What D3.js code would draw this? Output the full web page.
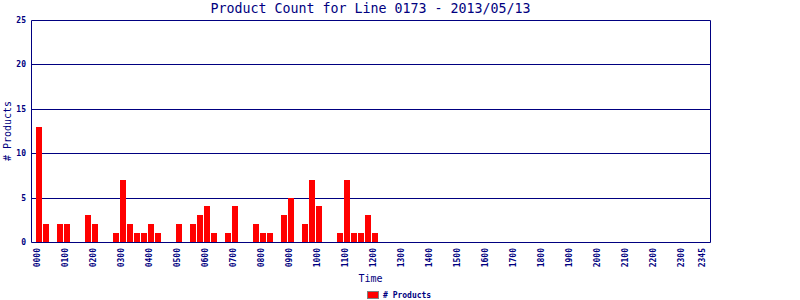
<!DOCTYPE html>
<html>
<head>
<meta charset="utf-8">
<script src="https://cdn.jsdelivr.net/npm/d3@7"></script>
<style>
  body { margin: 0; background: #fff; }
  text { font-family: "DejaVu Sans Mono", monospace; fill: #000080; }
</style>
</head>
<body>
<div id="chart"></div>
<script>
// 15 minute slots for the day, 0000 .. 2345
var slots = [];
for (var h = 0; h < 24; h++) {
  for (var m = 0; m < 60; m += 15) {
    slots.push(d3.format("02")(h) + d3.format("02")(m));
  }
}

// product counts per slot (empty after 1200)
var counts = [
  13, 2, 0, 2, 2, 0, 0, 3, 2, 0, 0, 1, 7, 2, 1, 1,
  2, 1, 0, 0, 2, 0, 2, 3, 4, 1, 0, 1, 4, 0, 0, 2,
  1, 1, 0, 3, 5, 0, 2, 7, 4, 0, 0, 1, 7, 1, 1, 3,
  1, 0, 0, 0, 0, 0, 0, 0, 0, 0, 0, 0, 0, 0, 0, 0,
  0, 0, 0, 0, 0, 0, 0, 0, 0, 0, 0, 0, 0, 0, 0, 0,
  0, 0, 0, 0, 0, 0, 0, 0, 0, 0, 0, 0, 0, 0, 0, 0
];

// labelled ticks: every hour plus the last slot
var xTickLabels = slots.filter(function(s, i) { return i % 4 === 0 || i === slots.length - 1; });
var yTicks = [0, 5, 10, 15, 20, 25];

var width = 800, height = 300;
var plotLeft = 31, plotRight = 710, plotTop = 20, plotBottom = 242;
var navy = "#000080";

var svg = d3.select("#chart")
  .append("svg")
  .attr("width", width)
  .attr("height", height);

var xScale = d3.scaleBand()
  .domain(slots)
  .range([36, 707])
  .paddingInner(1 / 7)
  .paddingOuter(0);

var yScale = d3.scaleLinear()
  .domain([0, 25])
  .range([plotBottom, plotTop]);

// grid lines
svg.append("g")
  .selectAll("line")
  .data(yTicks.filter(function(t) { return t > 0 && t < 25; }))
  .enter()
  .append("line")
  .attr("x1", plotLeft)
  .attr("x2", plotRight)
  .attr("y1", function(d) { return Math.round(yScale(d)) + 0.5; })
  .attr("y2", function(d) { return Math.round(yScale(d)) + 0.5; })
  .attr("stroke", navy)
  .attr("stroke-width", 1);

// bars
var barData = counts
  .map(function(c, i) { return { slot: slots[i], value: c }; })
  .filter(function(d) { return d.value > 0; });

svg.append("g")
  .selectAll("rect")
  .data(barData)
  .enter()
  .append("rect")
  .attr("x", function(d) { return Math.round(xScale(d.slot)); })
  .attr("y", function(d) { return Math.round(yScale(d.value)); })
  .attr("width", Math.round(xScale.bandwidth()))
  .attr("height", function(d) { return plotBottom - Math.round(yScale(d.value)); })
  .attr("fill", "red");

// frame
svg.append("path")
  .attr("d", "M" + (plotLeft + 0.5) + "," + (plotBottom + 0.5) + "V" + (plotTop + 0.5) +
    "H" + (plotRight + 0.5) + "V" + (plotBottom + 0.5) + "H" + (plotLeft + 0.5))
  .attr("fill", "none")
  .attr("stroke", navy)
  .attr("stroke-width", 1);

// y axis labels
var yAxis = d3.axisLeft(yScale).tickValues(yTicks).tickSize(0).tickPadding(5);
var yG = svg.append("g")
  .attr("transform", "translate(" + plotLeft + ",0)")
  .call(yAxis);
yG.attr("font-family", null);
yG.select(".domain").remove();
yG.selectAll("text")
  .style("font-size", "8px")
  .style("font-weight", "bold")
  .attr("fill", navy);

// x axis labels, rotated
var xAxis = d3.axisBottom(xScale).tickValues(xTickLabels).tickSize(0);
var xG = svg.append("g")
  .attr("transform", "translate(0," + plotBottom + ")")
  .call(xAxis);
xG.attr("font-family", null);
xG.select(".domain").remove();
xG.selectAll(".tick")
  .attr("transform", function(d) { return "translate(" + (xScale(d) + 1.5) + ",0)"; });
xG.selectAll("text")
  .attr("y", 0)
  .attr("dy", "0.35em")
  .attr("transform", "translate(0,6) rotate(-90)")
  .attr("text-anchor", "end")
  .style("font-size", "8px")
  .style("font-weight", "bold")
  .attr("fill", navy);

// title
svg.append("text")
  .attr("x", (plotLeft + plotRight) / 2)
  .attr("y", 13)
  .attr("text-anchor", "middle")
  .style("font-size", "13.3px")
  .text("Product Count for Line 0173 - 2013/05/13");

// axis titles
svg.append("text")
  .attr("transform", "translate(11," + ((plotTop + plotBottom) / 2) + ") rotate(-90)")
  .attr("text-anchor", "middle")
  .style("font-size", "10px")
  .text("# Products");

svg.append("text")
  .attr("x", (plotLeft + plotRight) / 2)
  .attr("y", 282)
  .attr("text-anchor", "middle")
  .style("font-size", "10px")
  .text("Time");

// legend
svg.append("rect")
  .attr("x", 367.5)
  .attr("y", 291.5)
  .attr("width", 11)
  .attr("height", 7)
  .attr("fill", "red")
  .attr("stroke", "#808080");

svg.append("text")
  .attr("x", 383)
  .attr("y", 298)
  .style("font-size", "8px")
  .style("font-weight", "bold")
  .text("# Products");
</script>
</body>
</html>
